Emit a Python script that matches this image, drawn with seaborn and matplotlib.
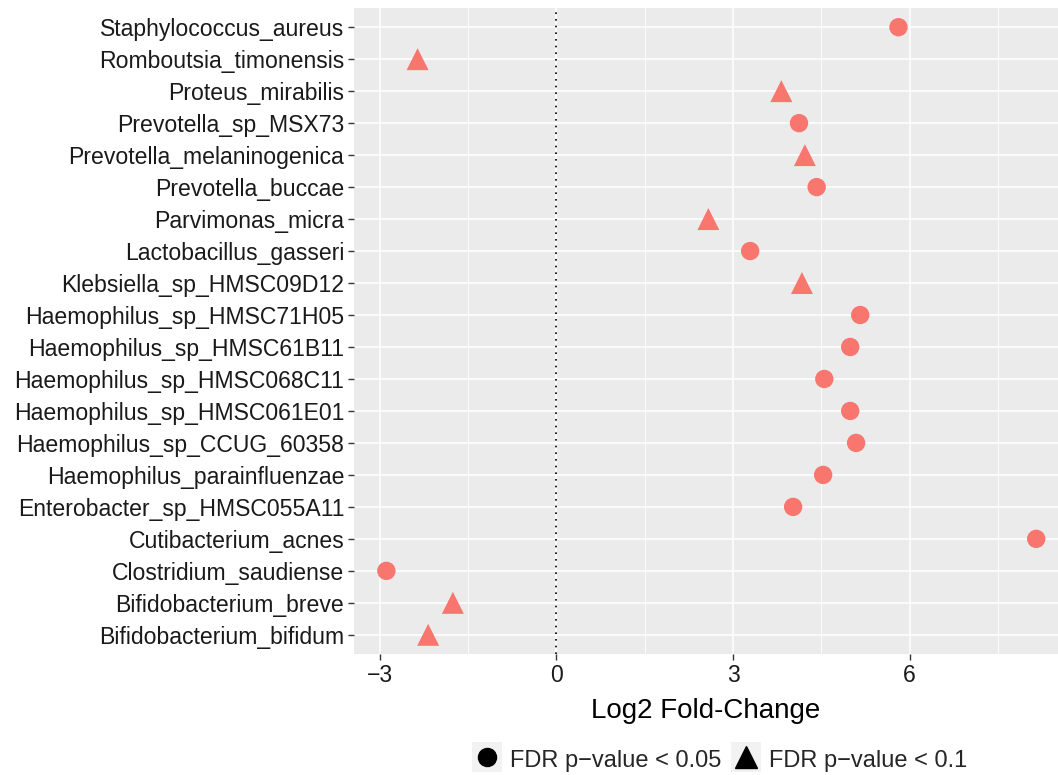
import matplotlib
matplotlib.use("Agg")
import matplotlib.pyplot as plt
import seaborn as sns
import pandas as pd
from matplotlib.lines import Line2D
from matplotlib.legend_handler import HandlerTuple

species = [
    "Staphylococcus_aureus", "Romboutsia_timonensis", "Proteus_mirabilis",
    "Prevotella_sp_MSX73", "Prevotella_melaninogenica", "Prevotella_buccae",
    "Parvimonas_micra", "Lactobacillus_gasseri", "Klebsiella_sp_HMSC09D12",
    "Haemophilus_sp_HMSC71H05", "Haemophilus_sp_HMSC61B11", "Haemophilus_sp_HMSC068C11",
    "Haemophilus_sp_HMSC061E01", "Haemophilus_sp_CCUG_60358", "Haemophilus_parainfluenzae",
    "Enterobacter_sp_HMSC055A11", "Cutibacterium_acnes", "Clostridium_saudiense",
    "Bifidobacterium_breve", "Bifidobacterium_bifidum",
]
log2fc = [5.81, -2.36, 3.82, 4.12, 4.22, 4.42, 2.58, 3.29, 4.17, 5.16,
          4.99, 4.55, 4.99, 5.09, 4.53, 4.02, 8.15, -2.89, -1.76, -2.18]
fdr = ["< 0.05", "< 0.1", "< 0.1", "< 0.05", "< 0.1", "< 0.05", "< 0.1", "< 0.05",
       "< 0.1", "< 0.05", "< 0.05", "< 0.05", "< 0.05", "< 0.05", "< 0.05", "< 0.05",
       "< 0.05", "< 0.05", "< 0.1", "< 0.1"]
legend_labels = ["FDR p\u2212value < 0.05", "FDR p\u2212value < 0.1"]
x_ticks = [-3, 0, 3, 6]

df = pd.DataFrame({"species": species, "log2fc": log2fc, "fdr": fdr})

sns.set_theme(style="darkgrid")
plt.rcParams["font.family"] = ["Liberation Sans", "DejaVu Sans"]

fig = plt.figure(figsize=(10.58, 7.75), dpi=100)
ax = fig.add_axes([354/1058, 1 - 654/775, 1 - 354/1058, (654 - 8)/775])
ax.set_facecolor("#EBEBEB")

ax.axvline(0, color="black", linestyle=(0, (1, 3)), linewidth=1.2, zorder=2)

sns.scatterplot(data=df, x="log2fc", y="species", style="fdr", size="fdr",
                markers={"< 0.05": "o", "< 0.1": "^"},
                sizes={"< 0.05": 175, "< 0.1": 250},
                color="#F8766D", linewidth=0, ax=ax, legend=False, zorder=3)

ax.set_xlim(-3.44, 8.52)
ax.set_ylim(len(species) - 0.4, -0.6)
ax.set_xticks(x_ticks)
ax.set_xticklabels(["\u22123", "0", "3", "6"])
ax.set_xticks([-1.5, 1.5, 4.5, 7.5], minor=True)
ax.grid(which="major", color="white", linewidth=1.1)
ax.grid(which="minor", axis="x", color="white", linewidth=0.6)
for s in ax.spines.values():
    s.set_visible(False)
ax.tick_params(axis="both", which="major", length=4, width=1, color="#333333",
               labelsize=16.6, labelcolor="#1A1A1A", pad=3, bottom=True, left=True)
ax.tick_params(axis="x", which="minor", length=0)
ax.set_xlabel("Log2 Fold-Change", fontsize=20, color="black", labelpad=8)
ax.set_ylabel("")

handles = []
for m in ["o", "^"]:
    bg = Line2D([], [], linestyle="none", marker="s", color="#F2F2F2",
                markersize=22, markeredgewidth=0)
    mk = Line2D([], [], linestyle="none", marker=m, color="black",
                markersize=13 if m == "o" else 16)
    handles.append((bg, mk))
fig.legend(handles, legend_labels, loc="center", bbox_to_anchor=(0.68, 0.02),
           ncol=2, frameon=False, fontsize=17,
           handler_map={tuple: HandlerTuple(ndivide=1, pad=0)},
           handlelength=1.3, handleheight=1.2, handletextpad=0.3, columnspacing=0.4,
           borderpad=0.1)

fig.savefig("out.png", dpi=100)
